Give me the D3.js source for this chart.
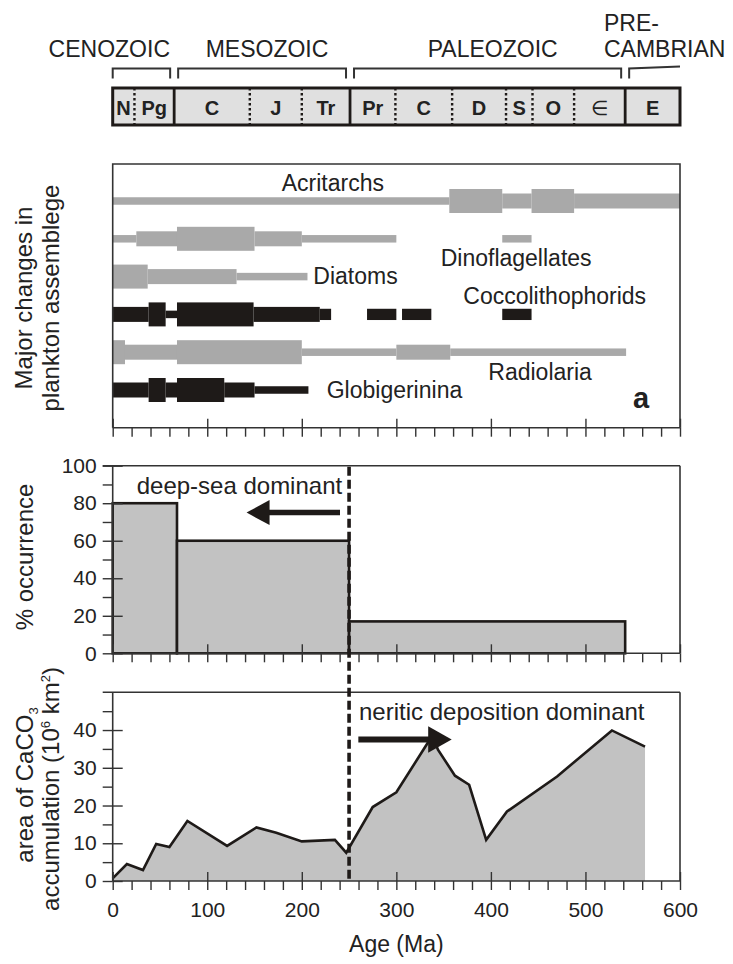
<!DOCTYPE html>
<html><head><meta charset="utf-8">
<script src="https://cdn.jsdelivr.net/npm/d3@7"></script>
<style>
body{margin:0;background:#fff;}
svg{display:block;font-family:"Liberation Sans",Arial,Helvetica,sans-serif;}
</style></head><body>
<svg id="chart" width="733" height="964"></svg>
<script>
// ---- geologic time scale (Ma) ----
const periods     = ["N","Pg","C","J","Tr","Pr","C","D","S","O","∈","E"];
const periodStart = [0,23,65,145,200,251,299,359,416,444,488,542];
const periodEnd   = [23,65,145,200,251,299,359,416,444,488,542,600];
const eras        = ["CENOZOIC","MESOZOIC","PALEOZOIC","PRE-CAMBRIAN"];
const eraStart    = [0,65,251,542];
const eraEnd      = [65,251,542,600];

// ---- plankton ranges: [from Ma, to Ma, abundance level 1..3] ----
const taxa      = ["Acritarchs","Dinoflagellates","Diatoms","Coccolithophorids","Radiolaria","Globigerinina"];
const taxonTone = ["gray","gray","gray","black","gray","black"];
const acritarchs        = [[0,356,1],[356,412,3],[412,443,2],[443,488,3],[488,600,2]];
const dinoflagellates   = [[0,25,1],[25,68,2],[68,150,3],[150,200,2],[200,300,1],[412,443,1]];
const diatoms           = [[0,37,3],[37,131,2],[131,206,1]];
const coccolithophorids = [[0,38,2],[38,56,3],[56,68,1],[68,149,3],[149,219,2],[219,231,1.5],[269,300,1.5],[306,337,1.5],[412,443,1.5]];
const radiolaria        = [[0,13,3],[13,68,2],[68,200,3],[200,300,1],[300,357,2],[357,543,1]];
const globigerinina     = [[0,38,2],[38,56,3],[56,68,2],[68,118,3],[118,150,2],[150,207,1]];
const ranges = [acritarchs,dinoflagellates,diatoms,coccolithophorids,radiolaria,globigerinina];

// ---- % occurrence of deep-sea deposits ----
const occStart = [0,68,250];
const occEnd   = [68,250,542];
const occPct   = [80,60,17];

// ---- area of CaCO3 accumulation (10^6 km^2) ----
const areaAge = [0,15,32,46,60,79,121,152,173,200,235,247,275,300,338,344,362,377,395,417,470,528,563];
const areaVal = [0.7,4.5,2.9,9.8,9.0,15.9,9.3,14.2,12.8,10.5,10.9,7.5,19.6,23.5,38.5,34.8,27.9,25.5,10.9,18.4,27.7,39.9,35.6];

// ---- ticks ----
const ageTicks  = [0,100,200,300,400,500,600];
const pctTicks  = [0,20,40,60,80,100];
const areaTicks = [0,10,20,30,40];
const boundaryAge = 250;

// ===================================================
const svg = d3.select("#chart");
const INK = "#1e1a18", GRAY = "#a9a9a9", FILL = "#c2c2c2";
const x = d3.scaleLinear().domain([0,600]).range([112.7,680]);

// ---------- time-scale strip ----------
const ts = svg.append("g");
const tsTop = 88, tsBot = 125;
ts.selectAll("rect.per").data(periods).join("rect")
  .attr("x",(d,i)=>x(periodStart[i])).attr("width",(d,i)=>x(periodEnd[i])-x(periodStart[i]))
  .attr("y",tsTop).attr("height",tsBot-tsTop).attr("fill","#e0e0e0");
// period boundaries: dotted, era boundaries: solid
periodStart.slice(1).forEach(a=>{
  const isEra = eraStart.includes(a);
  ts.append("line").attr("x1",x(a)).attr("x2",x(a)).attr("y1",tsTop).attr("y2",tsBot)
    .attr("stroke",INK).attr("stroke-width",isEra?2.8:2.4)
    .attr("stroke-dasharray",isEra?null:"2.6,2.4");
});
ts.append("rect").attr("x",x(0)).attr("y",tsTop).attr("width",x(600)-x(0)).attr("height",tsBot-tsTop)
  .attr("fill","none").attr("stroke",INK).attr("stroke-width",3);
ts.selectAll("text.per").data(periods).join("text")
  .attr("x",(d,i)=>x((periodStart[i]+periodEnd[i])/2)).attr("y",114.5)
  .attr("text-anchor","middle").attr("font-size",20)
  .attr("font-weight",d=>d==="∈"?"normal":"bold").attr("fill","#222").text(d=>d);

// era brackets
const bTop = 68.5, bTick = 10, gap = 4;
eras.forEach((e,i)=>{
  const x1 = x(eraStart[i]) + (eraStart[i]>0?gap:0);
  const x2 = x(eraEnd[i]) - (eraEnd[i]<600?gap:0);
  let p;
  if (eraEnd[i] < 600) p = `M${x1},${bTop+bTick}V${bTop}H${x2}V${bTop+bTick}`;
  else p = `M${x1},${bTop+bTick}V${bTop}L${x2},${bTop-2}`;
  ts.append("path").attr("d",p).attr("fill","none").attr("stroke","#333").attr("stroke-width",2);
});
const eraLbl = ts.append("g").attr("font-size",23).attr("fill","#222");
eraLbl.append("text").attr("x",170).attr("y",57.3).attr("text-anchor","end").text(eras[0]);
eraLbl.append("text").attr("x",267).attr("y",57.3).attr("text-anchor","middle").text(eras[1]);
eraLbl.append("text").attr("x",492.7).attr("y",57.3).attr("text-anchor","middle").text(eras[2]);
const pre = eras[3].split("-");
eraLbl.append("text").attr("x",604).attr("y",30.7).text(pre[0]+"-");
eraLbl.append("text").attr("x",604).attr("y",57.3).text(pre[1]);

// ---------- shared axis helpers ----------
function xAxis(g, y0, labels){
  g.append("line").attr("x1",x(0)).attr("x2",x(600)).attr("y1",y0).attr("y2",y0)
    .attr("stroke","#333").attr("stroke-width",1.6);
  const minor = d3.range(0,601,20);
  const gm = g.append("g").attr("transform",`translate(0,${y0})`)
    .call(d3.axisBottom(x).tickValues(minor).tickSize(9).tickFormat(""));
  const gu = g.append("g").attr("transform",`translate(0,${y0})`)
    .call(d3.axisTop(x).tickValues(ageTicks).tickSize(9).tickFormat(""));
  [gm,gu].forEach(s=>{s.select(".domain").remove(); s.selectAll("line").attr("stroke","#333").attr("stroke-width",1.4);});
  if (labels){
    const gl = g.append("g").attr("transform",`translate(0,${y0})`)
      .call(d3.axisBottom(x).tickValues(ageTicks).tickSize(9).tickPadding(12).tickFormat(d3.format("d")));
    gl.select(".domain").remove(); gl.selectAll("line").remove();
    gl.selectAll("text").attr("font-size",21).attr("font-family",null).attr("fill","#222");
  }
}
function yAxis(g, y, major, minor, top){
  g.append("line").attr("x1",x(0)).attr("x2",x(0)).attr("y1",y.range()[0]).attr("y2",y.range()[1])
    .attr("stroke","#333").attr("stroke-width",1.6);
  const gl = g.append("g").attr("transform",`translate(${x(0)},0)`)
    .call(d3.axisLeft(y).tickValues(major).tickSize(10).tickPadding(6).tickFormat(d3.format("d")));
  const gm = g.append("g").attr("transform",`translate(${x(0)},0)`)
    .call(d3.axisLeft(y).tickValues(minor).tickSize(10).tickFormat(""));
  const gr = g.append("g").attr("transform",`translate(${x(0)},0)`)
    .call(d3.axisRight(y).tickValues(major).tickSize(10).tickFormat(""));
  [gl,gm,gr].forEach(s=>{s.select(".domain").remove(); s.selectAll("line").attr("stroke","#333").attr("stroke-width",1.4);});
  gl.selectAll("text").attr("font-size",21).attr("font-family",null).attr("fill","#222");
  // top frame and right frame
  g.append("line").attr("x1",x(0)-10).attr("x2",x(600)).attr("y1",y(top)).attr("y2",y(top))
    .attr("stroke","#333").attr("stroke-width",1.6);
  g.append("line").attr("x1",x(600)).attr("x2",x(600)).attr("y1",y(top)).attr("y2",y(0))
    .attr("stroke","#333").attr("stroke-width",1.6);
}

// ---------- panel a: plankton assemblage ----------
const gA = svg.append("g");
const aTop = 164, aBot = 427.7;
const thick = d3.scaleLinear().domain([1,2,3]).range([7.5,15,24]);
const rowY = d3.scalePoint().domain(taxa).range([201,390]);
taxa.forEach((t,i)=>{
  gA.append("g").selectAll("rect").data(ranges[i]).join("rect")
    .attr("x",d=>x(d[0])).attr("width",d=>x(d[1])-x(d[0]))
    .attr("y",d=>rowY(t)-thick(d[2])/2).attr("height",d=>thick(d[2]))
    .attr("fill",taxonTone[i]==="black"?INK:GRAY);
});
const taxonLabelPos = {
  Acritarchs:[281.7,190.5], Dinoflagellates:[440.7,266], Diatoms:[313.3,284],
  Coccolithophorids:[463.3,304], Radiolaria:[488.3,380], Globigerinina:[326.7,398.3]
};
gA.selectAll("text.tx").data(taxa).join("text")
  .attr("x",d=>taxonLabelPos[d][0]).attr("y",d=>taxonLabelPos[d][1])
  .attr("font-size",23).attr("fill","#222").text(d=>d);
gA.append("text").attr("x",633).attr("y",408).attr("font-size",29).attr("font-weight","bold")
  .attr("fill","#222").text("a");
// frame
gA.append("path").attr("d",`M${x(0)},${aBot}V${aTop}H${x(600)}V${aBot}`)
  .attr("fill","none").attr("stroke","#333").attr("stroke-width",1.6);
xAxis(gA, aBot, false);
const ylA = gA.append("text").attr("transform",`translate(32,298) rotate(-90)`)
  .attr("text-anchor","middle").attr("font-size",24).attr("fill","#222");
ylA.append("tspan").attr("x",0).attr("y",0).text("Major changes in");
ylA.append("tspan").attr("x",0).attr("y",26.6).text("plankton assemblege");

// ---------- panel b: % occurrence ----------
const gB = svg.append("g");
const yB = d3.scaleLinear().domain([0,100]).range([653.3,465.7]);
gB.selectAll("rect").data(occPct).join("rect")
  .attr("x",(d,i)=>x(occStart[i])).attr("width",(d,i)=>x(occEnd[i])-x(occStart[i]))
  .attr("y",d=>yB(d)).attr("height",d=>yB(0)-yB(d))
  .attr("fill",FILL).attr("stroke",INK).attr("stroke-width",2.6);
yAxis(gB, yB, pctTicks, [10,30,50,70,90], 100);
xAxis(gB, yB(0), false);
gB.append("text").attr("transform",`translate(33,557) rotate(-90)`).attr("text-anchor","middle")
  .attr("font-size",24).attr("fill","#222").text("% occurrence");
gB.append("text").attr("x",136.7).attr("y",494.3).attr("font-size",24).attr("fill","#222")
  .text("deep-sea dominant");

// ---------- panel c: CaCO3 accumulation area ----------
const gC = svg.append("g");
const yC = d3.scaleLinear().domain([0,50]).range([881,692.3]);
const pts = areaAge.map((a,i)=>[a,areaVal[i]]);
gC.append("path").datum(pts)
  .attr("d",d3.area().x(d=>x(d[0])).y0(yC(0)).y1(d=>yC(d[1])))
  .attr("fill",FILL);
gC.append("path").datum(pts)
  .attr("d",d3.line().x(d=>x(d[0])).y(d=>yC(d[1])))
  .attr("fill","none").attr("stroke",INK).attr("stroke-width",2.6).attr("stroke-linejoin","miter");
yAxis(gC, yC, areaTicks, [5,15,25,35,45], 50);
xAxis(gC, yC(0), true);
const ylC = gC.append("text").attr("transform",`translate(33,785) rotate(-90)`)
  .attr("text-anchor","middle").attr("font-size",24).attr("fill","#222");
ylC.append("tspan").text("area of CaCO");
ylC.append("tspan").attr("font-size",13).attr("dy",5).text("3");
const ylC2 = gC.append("text").attr("transform",`translate(59,789) rotate(-90)`)
  .attr("text-anchor","middle").attr("font-size",24).attr("fill","#222");
ylC2.append("tspan").text("accumulation (10");
ylC2.append("tspan").attr("font-size",13).attr("dy",-9).text("6");
ylC2.append("tspan").attr("dy",9).text(" km");
ylC2.append("tspan").attr("font-size",13).attr("dy",-9).text("2");
ylC2.append("tspan").attr("dy",9).text(")");
gC.append("text").attr("x",359).attr("y",720).attr("font-size",24).attr("fill","#222")
  .text("neritic deposition dominant");
svg.append("text").attr("x",(x(0)+x(600))/2).attr("y",952).attr("text-anchor","middle")
  .attr("font-size",23).attr("fill","#222").text("Age (Ma)");

// ---------- arrows ----------
function arrow(g, fromAge, toAge, yPix, w, headLen, headHalf){
  const dir = Math.sign(x(toAge)-x(fromAge));
  const tip = x(toAge), base = tip - dir*headLen;
  g.append("line").attr("x1",x(fromAge)).attr("x2",base+dir*1).attr("y1",yPix).attr("y2",yPix)
    .attr("stroke",INK).attr("stroke-width",w);
  g.append("path").attr("d",`M${tip},${yPix}L${base},${yPix-headHalf}L${base},${yPix+headHalf}Z`).attr("fill",INK);
}
arrow(gB, 240.4, 141.6, yB(75), 5.5, 23, 12.5);
arrow(gC, 259.8, 358.5, yC(37.5), 6, 23.5, 13.3);

// ---------- Permian/Triassic boundary ----------
svg.append("line").attr("x1",x(boundaryAge)).attr("x2",x(boundaryAge))
  .attr("y1",yB(100)+1).attr("y2",yC(0)+1)
  .attr("stroke",INK).attr("stroke-width",3.6).attr("stroke-dasharray","9,4");
</script>
</body></html>
